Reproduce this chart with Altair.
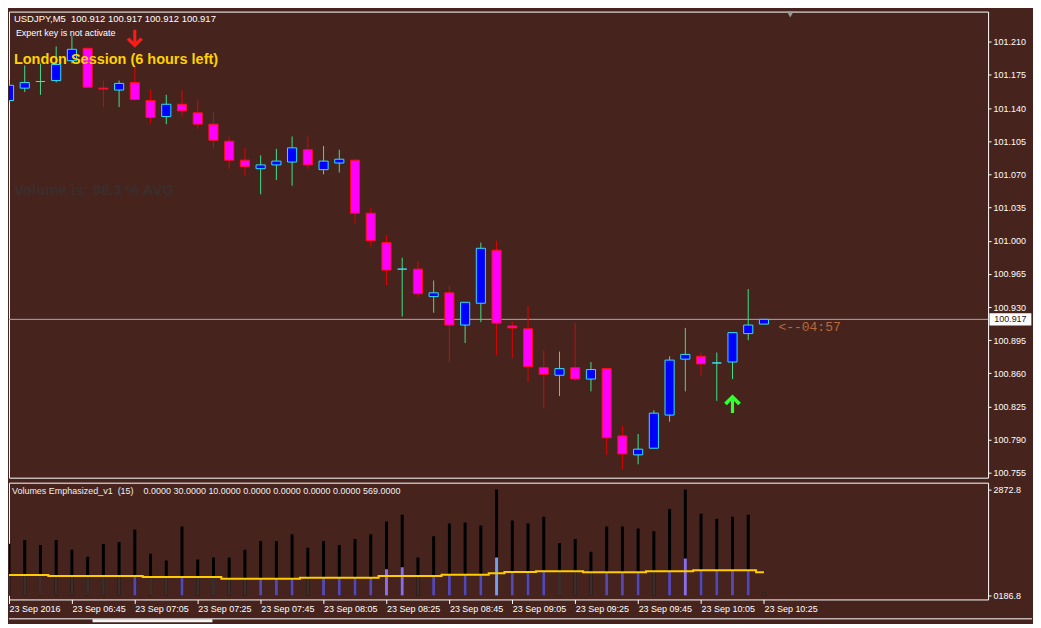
import altair as alt
import pandas as pd

# ---------------- data ----------------
times = ["06:25", "06:30", "06:35", "06:40", "06:45", "06:50", "06:55", "07:00", "07:05", "07:10",
         "07:15", "07:20", "07:25", "07:30", "07:35", "07:40", "07:45", "07:50", "07:55", "08:00",
         "08:05", "08:10", "08:15", "08:20", "08:25", "08:30", "08:35", "08:40", "08:45", "08:50",
         "08:55", "09:00", "09:05", "09:10", "09:15", "09:20", "09:25", "09:30", "09:35", "09:40",
         "09:45", "09:50", "09:55", "10:00", "10:05", "10:10", "10:15", "10:20", "10:25"]

opens = [101.148, 101.161, 101.168, 101.169, 101.190, 101.203, 101.161, 101.159, 101.167, 101.148,
         101.131, 101.144, 101.135, 101.123, 101.105, 101.085, 101.076, 101.080, 101.083, 101.096,
         101.075, 101.082, 101.085, 101.029, 100.998, 100.970, 100.970, 100.941, 100.945, 100.911,
         100.934, 100.990, 100.910, 100.907, 100.866, 100.858, 100.866, 100.854, 100.865, 100.794,
         100.774, 100.781, 100.816, 100.875, 100.878, 100.871, 100.872, 100.902, 100.912]
highs = [101.170, 101.185, 101.187, 101.205, 101.216, 101.204, 101.169, 101.169, 101.184, 101.160,
         101.154, 101.159, 101.149, 101.136, 101.110, 101.098, 101.090, 101.097, 101.110, 101.110,
         101.100, 101.096, 101.086, 101.035, 101.006, 100.982, 100.978, 100.958, 100.953, 100.935,
         100.998, 101.000, 100.915, 100.931, 100.884, 100.883, 100.913, 100.872, 100.865, 100.805,
         100.796, 100.821, 100.878, 100.908, 100.882, 100.882, 100.903, 100.949, 100.917]
lows = [101.146, 101.157, 101.154, 101.167, 101.187, 101.161, 101.141, 101.141, 101.148, 101.124,
        101.123, 101.131, 101.118, 101.097, 101.076, 101.069, 101.049, 101.064, 101.058, 101.076,
        101.070, 101.072, 101.018, 100.994, 100.953, 100.920, 100.940, 100.924, 100.872, 100.892,
        100.914, 100.879, 100.876, 100.851, 100.823, 100.836, 100.852, 100.841, 100.774, 100.759,
        100.764, 100.781, 100.809, 100.841, 100.857, 100.831, 100.854, 100.895, 100.912]
closes = [101.164, 101.167, 101.168, 101.186, 101.202, 101.162, 101.160, 101.166, 101.149, 101.130,
          101.144, 101.137, 101.123, 101.106, 101.085, 101.078, 101.080, 101.084, 101.098, 101.080,
          101.084, 101.086, 101.029, 101.000, 100.969, 100.970, 100.944, 100.945, 100.911, 100.935,
          100.992, 100.913, 100.908, 100.867, 100.859, 100.865, 100.854, 100.864, 100.792, 100.775,
          100.780, 100.818, 100.874, 100.880, 100.870, 100.871, 100.903, 100.911, 100.917]

volumes = [1400, 1503, 1371, 1503, 1239, 1054, 1397, 1450, 1792, 1133,
           949, 1872, 975, 1028, 1028, 1239, 1476, 1476, 1661, 1292,
           1476, 1371, 1529, 1661, 2003, 2188, 1028, 1608, 1951, 1977,
           1898, 2873, 2030, 1951, 2135, 1423, 1529, 1186, 1872, 1872,
           1819, 1740, 2346, 2873, 2214, 2082, 2135, 2188, 80]
vol_ma = [554, 554, 554, 527, 527, 527, 527, 527, 527, 501,
          501, 501, 501, 501, 457, 457, 457, 457, 457, 483,
          483, 483, 483, 483, 527, 527, 527, 527, 562, 562,
          562, 605, 641, 641, 659, 659, 659, 633, 633, 633,
          633, 659, 659, 659, 685, 685, 685, 685, 633]
emph_cat = [0, 0, 0, 0, 0, 0, 0, 0, 1, 0,
            0, 1, 0, 0, 0, 0, 1, 1, 1, 0,
            1, 1, 1, 1, 2, 2, 0, 1, 1, 1,
            1, 3, 1, 1, 1, 0, 0, 0, 1, 1,
            1, 0, 1, 2, 1, 1, 1, 1, 0]
emph_peaks = {24: 712, 25: 764, 31: 1028, 43: 1002}

price_ticks = [101.210, 101.175, 101.140, 101.105, 101.070, 101.035, 101.000,
               100.965, 100.930, 100.895, 100.860, 100.825, 100.790, 100.755]
current_price = 100.917
time_tick_pos = [0, 4, 8, 12, 16, 20, 24, 28, 32, 36, 40, 44, 48]
time_tick_labels = ["23 Sep 2016", "23 Sep 06:45", "23 Sep 07:05", "23 Sep 07:25", "23 Sep 07:45",
                    "23 Sep 08:05", "23 Sep 08:25", "23 Sep 08:45", "23 Sep 09:05", "23 Sep 09:25",
                    "23 Sep 09:45", "23 Sep 10:05", "23 Sep 10:25"]
vol_ticks = [0, 2872.8]
signal_idx = [8, 46]
signal_price = [101.2131, 100.8279]
signal_dir = ["down", "up"]

# ---------------- styling / layout ----------------
BG = "#46241d"
BULL_FILL, BULL_EDGE, BULL_WICK = "#0000ff", "#33e0f0", "#3ee08a"
BEAR_FILL, BEAR_EDGE, BEAR_WICK = "#ff00ff", "#ff1010", "#e00000"
FONT = "Liberation Sans"
NB = "\u00a0"

SX = 1025 / 1041
SY = 612 / 628
W = round(996 * SX)
H1 = round(479 * SY)
H2 = round(120 * SY)

df = pd.DataFrame(dict(i=list(range(len(opens))), t=times, o=opens, h=highs, l=lows,
                       c=closes, v=volumes, ma=vol_ma, cat=emph_cat))
df["top"] = [emph_peaks.get(k, min(v, m)) for k, v, m in zip(df.i, df.v, df.ma)]
df["zero"] = 0

xsc = alt.Scale(domain=[0, 62.25], nice=False, zero=False)
psc = alt.Scale(domain=[100.7499, 101.2418], nice=False, zero=False)
vsc = alt.Scale(domain=[-105.4, 3057.6], nice=False, zero=False)

bull = "datum.c >= datum.o"
base = alt.Chart(df)

price_axis = alt.Axis(orient="right", values=price_ticks, format=".3f", title=None,
                      tickSize=3, labelPadding=2, domain=False, grid=False, labelOverlap=False)
label_expr = "[" + ",".join(f"'{s}'" for s in time_tick_labels) + "][round(datum.value / 4)]"
time_axis = alt.Axis(values=time_tick_pos, labelExpr=label_expr, labelAlign="left",
                     labelBaseline="top", tickSize=4, labelPadding=1, domain=False, grid=False,
                     title=None, labelFlush=False, labelOverlap=False, labelBound=False)
vol_axis = alt.Axis(orient="right", values=vol_ticks, title=None, tickSize=3, labelPadding=2,
                    domain=False, grid=False, labelOverlap=False,
                    labelExpr="datum.value == 0 ? '0186.8' : format(datum.value, '.1f')")


def PX(field):  # x channel of the top panel
    return alt.X(field, scale=xsc, axis=None)


def PY(field):  # price channel
    return alt.Y(field, scale=psc, axis=price_axis)


def BX(field):  # x channel of the volume panel
    return alt.X(field, scale=xsc, axis=time_axis)


def BY(field):  # volume channel
    return alt.Y(field, scale=vsc, axis=vol_axis)


cur = alt.Chart(pd.DataFrame({"p": [current_price], "lab": [f"{current_price:.3f}"]}))
price_line = cur.mark_rule(color="#a8a8b8", strokeWidth=1).encode(y=PY("p:Q"))

wicks = base.mark_rule(strokeWidth=1, clip=True).encode(
    x=PX("i:Q"), y=PY("l:Q"), y2="h:Q",
    color=alt.condition(bull, alt.value(BULL_WICK), alt.value(BEAR_WICK)))

bodies = base.transform_calculate(xa="datum.i - 0.29", xb="datum.i + 0.29").mark_rect(
    strokeWidth=1, clip=True).encode(
    x=PX("xa:Q"), x2="xb:Q", y=PY("o:Q"), y2="c:Q",
    fill=alt.condition(bull, alt.value(BULL_FILL), alt.value(BEAR_FILL)),
    stroke=alt.condition(bull, alt.value(BULL_EDGE), alt.value(BEAR_EDGE)))

sig = alt.Chart(pd.DataFrame({"i": signal_idx, "p": signal_price, "d": signal_dir}))
UP = "M0,-1L0.9,-0.1L0.6,0.15L0.17,-0.3L0.17,1L-0.17,1L-0.17,-0.3L-0.6,0.15L-0.9,-0.1Z"
DOWN = "M0,1L0.9,0.1L0.6,-0.15L0.17,0.3L0.17,-1L-0.17,-1L-0.17,0.3L-0.6,-0.15L-0.9,0.1Z"
arrow_up = sig.transform_filter("datum.d == 'up'").mark_point(
    shape=UP, filled=True, size=350, color="#33ff33", opacity=1).encode(x=PX("i:Q"), y=PY("p:Q"))
arrow_dn = sig.transform_filter("datum.d == 'down'").mark_point(
    shape=DOWN, filled=True, size=330, color="#ff1a1a", opacity=1).encode(x=PX("i:Q"), y=PY("p:Q"))

BOX = "M-1,-0.29L1,-0.29L1,0.29L-1,0.29Z"
price_box = cur.mark_point(shape=BOX, filled=True, size=1764, color="#ffffff", opacity=1,
                           clip=False).encode(x=alt.value(1019 * SX), y=PY("p:Q"))
price_box_txt = cur.mark_text(font=FONT, fontSize=9, color="#2a1510", align="center",
                              baseline="middle").encode(
    x=alt.value(1019 * SX), y=PY("p:Q"), text="lab:N")


def note(txt, x, y, size=9, color="#ffffff", weight="normal", font=FONT, yref=2):
    return alt.Chart(pd.DataFrame({"s": [txt.replace("  ", NB + NB)]})).mark_text(
        font=font, fontSize=size, color=color, fontWeight=weight, align="left",
        baseline="middle").encode(x=alt.value(x * SX), y=alt.value((y - yref) * SY), text="s:N")


hdr = note("USDJPY,M5  100.912 100.917 100.912 100.917", 5, 10, size=9.5)
expert = note("Expert key is not activate", 7, 24, size=9)
london = note("London Session (6 hours left)", 5, 52, size=14.5, color="#ffd200", weight="bold")
volis = note("Volume is: 98.3 % AVG", 5, 185, size=15, color="#3b2e2d", weight="bold")
timer = note("<--04:57", 783, 326, size=13, color="#b8693d", font="Liberation Mono")

tri = alt.Chart(pd.DataFrame({"s": [1]})).mark_point(
    shape="triangle-down", filled=True, size=45, color="#9a9a9a", opacity=1).encode(
    x=alt.value(795 * SX), y=alt.value(3 * SY))

top = alt.layer(price_line, wicks, bodies, arrow_up, arrow_dn, price_box, price_box_txt,
                hdr, expert, london, volis, timer, tri).properties(width=W, height=H1)

# ---------------- volume panel ----------------
vbars = base.mark_rule(color="#000000", strokeWidth=3, clip=True).encode(
    x=BX("i:Q"), y=BY("v:Q"), y2="zero:Q")
vemph = base.mark_rule(clip=True).encode(
    x=BX("i:Q"), y=BY("top:Q"), y2="zero:Q",
    color=alt.Color("cat:O", scale=alt.Scale(domain=[0, 1, 2, 3],
                    range=["#3b2e2b", "#5548b0", "#8a6ee8", "#6f9ff2"]), legend=None),
    strokeWidth=alt.StrokeWidth("cat:O", scale=alt.Scale(domain=[0, 1, 2, 3],
                                range=[3, 3, 3.5, 6]), legend=None))
vma = base.mark_line(interpolate="step", color="#ffcc00", strokeWidth=2, clip=True).encode(
    x=BX("i:Q"), y=BY("ma:Q"))
vhdr = note("Volumes Emphasized_v1  (15)    0.0000 30.0000 10.0000 0.0000 0.0000 0.0000 0.0000 569.0000",
            3, 493, size=9, color="#f0f0f0", yref=484)
foot_line = alt.Chart(pd.DataFrame({"s": [1]})).mark_rule(color="#ffffff", strokeWidth=1).encode(
    x=alt.value(0), x2=alt.value(1041 * SX), y=alt.value((624 - 484) * SY))
foot_tab = alt.Chart(pd.DataFrame({"s": [1]})).mark_rule(color="#f4f4f4", strokeWidth=3).encode(
    x=alt.value(85 * SX), x2=alt.value(207 * SX), y=alt.value((626 - 484) * SY))

bottom = alt.layer(vbars, vemph, vma, vhdr, foot_line, foot_tab).properties(width=W, height=H2)

chart = alt.vconcat(top, bottom, spacing=3).properties(
    background=BG, padding={"left": 0, "top": 2, "right": 0, "bottom": 0}
).configure_view(stroke="#ffffff", strokeWidth=1).configure_axis(
    labelColor="#ffffff", tickColor="#ffffff", labelFont=FONT, labelFontSize=9, grid=False)

chart.save("out.html", embed_options={"renderer": "svg", "actions": False})
